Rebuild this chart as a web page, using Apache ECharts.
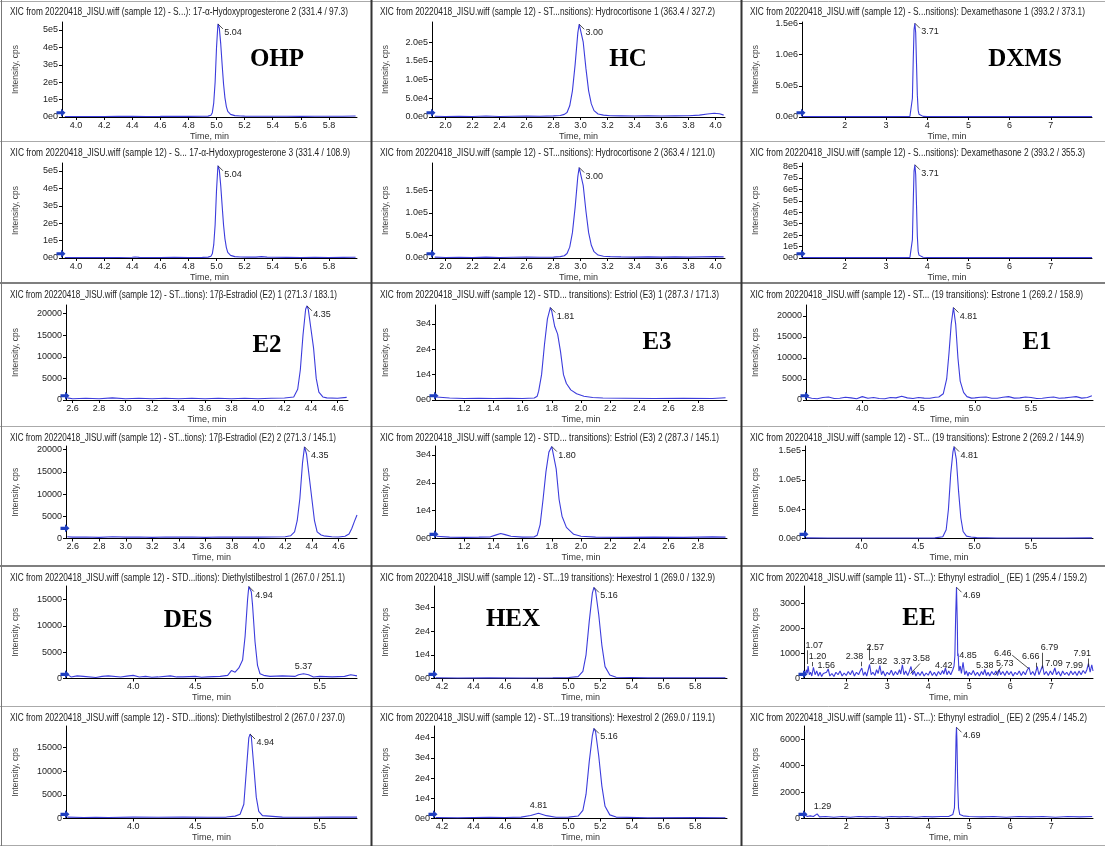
<!DOCTYPE html>
<html>
<head>
<meta charset="utf-8">
<title>XIC chromatograms</title>
<script src="https://cdn.jsdelivr.net/npm/echarts@6/dist/echarts.min.js"></script>
<style>
html, body { margin: 0; padding: 0; background: #fff; }
#chart { width: 1105px; height: 846px; }
</style>
</head>
<body>
<div id="chart"></div>
<script>
// ---- traces: [time (min), intensity (cps)] ----
const ohp1 = [[3.92,3000],[4.0,2500],[4.1,3000],[4.2,2500],[4.3,3500],[4.4,4500],[4.5,3000],[4.6,3500],[4.7,4500],[4.8,3500],[4.9,4000],[4.94,5000],[4.96,10000],[4.97,25000],[4.98,80000],[4.99,200000],[5.0,400000],[5.01,535000],[5.02,510000],[5.03,420000],[5.04,300000],[5.05,190000],[5.06,110000],[5.07,60000],[5.08,32000],[5.1,15000],[5.13,8000],[5.17,6000],[5.2,5000],[5.3,4000],[5.4,4500],[5.5,4000],[5.6,3500],[5.7,4500],[5.8,4000],[5.9,4500],[5.99,6000]];
const ohp2 = [[3.92,3000],[4.0,2000],[4.1,2500],[4.2,2000],[4.3,3000],[4.4,4000],[4.42,6000],[4.45,3500],[4.5,2500],[4.6,3000],[4.7,3500],[4.8,3000],[4.9,3500],[4.94,5000],[4.96,10000],[4.97,24000],[4.98,75000],[4.99,190000],[5.0,390000],[5.01,530000],[5.02,505000],[5.03,415000],[5.04,300000],[5.05,190000],[5.06,110000],[5.07,60000],[5.08,32000],[5.1,15000],[5.13,8000],[5.17,6000],[5.22,5000],[5.28,5000],[5.32,8000],[5.36,5000],[5.4,4000],[5.5,3500],[5.6,3000],[5.7,3500],[5.8,3000],[5.9,3500],[5.99,4000]];
const hc1 = [[1.92,2000],[2.0,1500],[2.1,2000],[2.2,1500],[2.3,2500],[2.4,1500],[2.5,2000],[2.6,2500],[2.7,2000],[2.8,3000],[2.85,4000],[2.88,7000],[2.9,12000],[2.92,30000],[2.94,70000],[2.96,140000],[2.98,225000],[2.99,248000],[3.0,245000],[3.02,200000],[3.04,130000],[3.06,70000],[3.08,35000],[3.1,17000],[3.13,8000],[3.17,5000],[3.22,3500],[3.3,3000],[3.4,2500],[3.5,3000],[3.6,2500],[3.7,3000],[3.8,3500],[3.88,5000],[3.94,8000],[3.99,10000],[4.03,8500],[4.06,5000]];
const hc2 = [[1.92,2000],[2.0,1000],[2.1,1500],[2.2,1000],[2.3,2000],[2.4,1000],[2.5,1500],[2.6,2000],[2.7,1500],[2.8,2000],[2.85,3000],[2.88,5000],[2.9,10000],[2.92,24000],[2.94,56000],[2.96,112000],[2.98,180000],[2.99,200000],[3.0,197000],[3.02,160000],[3.04,104000],[3.06,56000],[3.08,28000],[3.1,14000],[3.13,6500],[3.17,4000],[3.22,3000],[3.3,2500],[3.4,2000],[3.5,2500],[3.6,2000],[3.7,2500],[3.8,2000],[3.9,2500],[4.0,3000],[4.06,2500]];
const dxms1 = [[0.97,8000],[1.5,6000],[2.0,6000],[2.5,7000],[3.0,6000],[3.4,7000],[3.58,9000],[3.62,40000],[3.64,300000],[3.66,900000],[3.68,1400000],[3.7,1500000],[3.72,1350000],[3.74,850000],[3.76,350000],[3.78,110000],[3.8,45000],[3.84,20000],[3.9,10000],[4.0,7000],[5.0,6000],[6.0,6000],[7.0,6000],[8.0,6000]];
const dxms2 = [[0.97,4000],[1.5,3000],[2.0,3000],[2.5,3500],[3.0,3000],[3.4,3500],[3.58,5000],[3.62,22000],[3.64,160000],[3.66,480000],[3.68,760000],[3.7,815000],[3.72,730000],[3.74,460000],[3.76,190000],[3.78,60000],[3.8,25000],[3.84,11000],[3.9,6000],[4.0,4000],[5.0,3000],[6.0,3000],[7.0,3000],[8.0,3000]];
const e2a = [[2.56,500],[2.6,300],[2.7,400],[2.8,300],[2.9,500],[3.0,300],[3.1,400],[3.2,300],[3.3,400],[3.4,300],[3.5,400],[3.6,300],[3.7,400],[3.8,300],[3.9,400],[4.0,300],[4.1,400],[4.2,450],[4.27,700],[4.3,2500],[4.32,7000],[4.34,15000],[4.36,21000],[4.37,21800],[4.38,21000],[4.4,16500],[4.42,12000],[4.44,5000],[4.46,1800],[4.49,700],[4.52,500],[4.6,400],[4.67,600]];
const e2b = [[2.56,400],[2.6,300],[2.7,350],[2.8,250],[2.9,400],[3.0,300],[3.1,350],[3.2,250],[3.3,350],[3.4,300],[3.5,350],[3.6,250],[3.7,350],[3.8,300],[3.9,350],[4.0,300],[4.1,350],[4.2,400],[4.24,600],[4.27,1500],[4.29,4000],[4.31,9000],[4.33,17000],[4.345,20600],[4.36,19000],[4.38,14000],[4.4,9000],[4.42,4000],[4.44,1500],[4.47,800],[4.49,600],[4.55,400],[4.6,350],[4.65,500],[4.68,1000],[4.7,2200],[4.72,3800],[4.74,5300]];
const e3a = [[1.01,1200],[1.1,800],[1.2,600],[1.3,700],[1.4,600],[1.5,700],[1.6,600],[1.68,800],[1.7,1500],[1.71,3500],[1.73,10000],[1.75,22000],[1.77,32000],[1.79,36500],[1.8,35000],[1.82,29000],[1.84,26000],[1.86,19000],[1.88,10000],[1.9,6500],[1.93,4000],[1.97,2500],[2.02,1500],[2.08,1000],[2.15,800],[2.3,700],[2.5,600],[2.7,700],[2.9,600],[2.99,900]];
const e3b = [[1.01,800],[1.1,500],[1.2,400],[1.3,500],[1.38,600],[1.42,1300],[1.45,1800],[1.48,1400],[1.52,800],[1.6,500],[1.68,600],[1.7,1200],[1.72,5000],[1.74,14000],[1.76,24000],[1.78,31000],[1.8,33000],[1.81,32500],[1.83,25000],[1.85,14000],[1.87,8000],[1.9,4000],[1.95,1500],[2.0,800],[2.1,500],[2.3,400],[2.5,500],[2.7,400],[2.9,600],[2.99,500]];
const e1a = [[3.51,700],[3.55,400],[3.6,300],[3.65,600],[3.7,700],[3.75,350],[3.8,400],[3.85,650],[3.9,500],[3.95,300],[4.0,800],[4.05,400],[4.1,600],[4.15,350],[4.2,300],[4.25,600],[4.3,500],[4.35,900],[4.4,500],[4.45,350],[4.5,600],[4.55,450],[4.6,400],[4.65,650],[4.68,700],[4.72,1500],[4.75,5000],[4.77,11000],[4.79,18000],[4.81,22000],[4.83,18000],[4.85,10000],[4.87,4500],[4.9,1800],[4.93,800],[4.97,450],[5.0,500],[5.05,650],[5.1,700],[5.15,400],[5.2,400],[5.25,650],[5.3,800],[5.35,450],[5.4,500],[5.45,700],[5.5,600],[5.55,350],[5.6,400],[5.65,600],[5.7,700],[5.75,400],[5.8,500],[5.85,650],[5.9,800],[5.95,450],[6.0,600],[6.04,1000]];
const e1b = [[3.51,1000],[3.7,800],[4.0,800],[4.3,900],[4.5,800],[4.65,1000],[4.72,3000],[4.75,15000],[4.77,50000],[4.79,110000],[4.81,148000],[4.82,157000],[4.84,135000],[4.86,80000],[4.88,35000],[4.9,12000],[4.93,4000],[4.97,2500],[5.02,1500],[5.2,900],[5.5,800],[5.8,900],[6.04,1000]];
const des1 = [[3.47,800],[3.5,300],[3.55,500],[3.6,400],[3.7,200],[3.75,400],[3.8,500],[3.9,300],[3.95,450],[4.0,600],[4.05,300],[4.1,400],[4.15,250],[4.2,300],[4.3,500],[4.35,300],[4.4,300],[4.5,400],[4.55,250],[4.6,300],[4.7,400],[4.76,600],[4.79,1500],[4.82,1200],[4.85,2000],[4.88,3500],[4.9,8000],[4.92,15000],[4.93,17500],[4.95,16500],[4.96,14000],[4.98,7000],[5.0,2500],[5.02,900],[5.05,600],[5.1,400],[5.2,500],[5.3,400],[5.33,700],[5.37,900],[5.41,700],[5.45,300],[5.5,400],[5.6,300],[5.7,400],[5.75,700],[5.8,500]];
const des2 = [[3.47,300],[3.6,200],[3.7,250],[3.8,200],[4.0,300],[4.2,250],[4.4,300],[4.6,250],[4.75,300],[4.82,500],[4.86,900],[4.89,3000],[4.91,10000],[4.93,17000],[4.94,17800],[4.95,17300],[4.97,11000],[4.99,4500],[5.01,1500],[5.04,600],[5.2,300],[5.4,250],[5.6,300],[5.8,300]];
const hex1 = [[4.16,300],[4.3,200],[4.5,300],[4.7,200],[4.9,300],[5.0,400],[5.06,800],[5.09,3000],[5.11,10000],[5.13,24000],[5.15,36000],[5.16,38400],[5.17,37000],[5.19,27000],[5.21,14000],[5.23,5000],[5.26,1500],[5.3,500],[5.5,300],[5.8,300],[5.99,300]];
const hex2 = [[4.16,500],[4.3,400],[4.5,600],[4.6,500],[4.7,700],[4.76,1500],[4.81,2600],[4.86,1400],[4.92,600],[5.0,700],[5.06,1200],[5.09,4000],[5.11,12000],[5.13,28000],[5.15,41000],[5.16,44500],[5.17,43000],[5.19,31000],[5.21,16000],[5.23,6000],[5.26,1800],[5.3,700],[5.5,400],[5.8,500],[5.99,400]];
const ee1 = [[0.98,300],[1.0,150],[1.03,350],[1.05,200],[1.07,500],[1.1,150],[1.13,250],[1.16,100],[1.2,450],[1.24,150],[1.28,300],[1.32,100],[1.36,250],[1.4,80],[1.44,200],[1.48,120],[1.52,250],[1.56,380],[1.6,100],[1.65,200],[1.7,80],[1.75,250],[1.8,150],[1.85,300],[1.9,100],[1.95,220],[2.0,120],[2.05,280],[2.1,150],[2.15,320],[2.2,100],[2.25,250],[2.3,150],[2.34,300],[2.38,420],[2.42,120],[2.46,260],[2.5,100],[2.53,300],[2.57,560],[2.61,150],[2.65,250],[2.7,120],[2.74,350],[2.78,200],[2.82,520],[2.86,150],[2.9,300],[2.95,100],[3.0,250],[3.05,150],[3.1,330],[3.15,120],[3.2,280],[3.25,150],[3.3,350],[3.33,180],[3.37,550],[3.41,150],[3.45,300],[3.5,120],[3.54,280],[3.58,480],[3.62,150],[3.66,300],[3.7,100],[3.75,250],[3.8,120],[3.85,280],[3.9,100],[3.95,220],[4.0,130],[4.05,300],[4.1,120],[4.15,250],[4.2,100],[4.25,280],[4.3,150],[4.35,320],[4.38,180],[4.42,420],[4.46,150],[4.5,300],[4.55,150],[4.6,350],[4.63,500],[4.65,900],[4.67,2500],[4.69,3650],[4.71,2200],[4.72,900],[4.73,1000],[4.75,300],[4.78,500],[4.81,200],[4.85,650],[4.89,150],[4.93,300],[4.97,100],[5.0,250],[5.05,150],[5.1,320],[5.15,120],[5.2,250],[5.25,100],[5.3,280],[5.34,150],[5.38,360],[5.42,120],[5.46,250],[5.5,100],[5.55,280],[5.6,150],[5.65,300],[5.69,120],[5.73,350],[5.77,150],[5.82,280],[5.87,120],[5.92,300],[5.97,150],[6.02,280],[6.07,100],[6.12,250],[6.17,150],[6.22,300],[6.27,120],[6.32,280],[6.37,150],[6.41,320],[6.46,450],[6.5,150],[6.55,280],[6.6,120],[6.66,480],[6.7,150],[6.74,300],[6.79,520],[6.83,150],[6.88,280],[6.93,120],[6.98,300],[7.03,150],[7.09,420],[7.13,150],[7.18,280],[7.23,100],[7.28,300],[7.33,150],[7.38,250],[7.43,120],[7.48,300],[7.53,150],[7.58,280],[7.63,120],[7.68,300],[7.73,150],[7.78,320],[7.83,200],[7.87,350],[7.91,600],[7.95,250],[7.99,550],[8.02,300]];
const ee2 = [[0.98,300],[1.05,150],[1.12,200],[1.2,150],[1.29,350],[1.35,120],[1.5,150],[1.7,100],[1.9,150],[2.1,100],[2.3,150],[2.5,120],[2.7,150],[2.9,100],[3.1,150],[3.3,120],[3.5,150],[3.7,100],[3.9,150],[4.1,120],[4.3,150],[4.5,150],[4.6,300],[4.64,800],[4.66,3000],[4.68,6200],[4.69,6900],[4.7,6000],[4.72,2500],[4.74,800],[4.77,300],[4.85,200],[5.0,150],[5.3,120],[5.6,150],[5.9,100],[6.2,150],[6.5,120],[6.8,150],[7.1,100],[7.4,150],[7.7,120],[8.0,150]];

// ---- peak apex labels: [time, intensity, text] ----
const ohp1Peaks = [[5.01, 535000, '5.04']];
const ohp2Peaks = [[5.01, 530000, '5.04']];
const hc1Peaks = [[2.99, 248000, '3.00']];
const hc2Peaks = [[2.99, 200000, '3.00']];
const dxms1Peaks = [[3.7, 1500000, '3.71']];
const dxms2Peaks = [[3.7, 815000, '3.71']];
const e2aPeaks = [[4.37, 21800, '4.35']];
const e2bPeaks = [[4.345, 20600, '4.35']];
const e3aPeaks = [[1.79, 36500, '1.81']];
const e3bPeaks = [[1.8, 33000, '1.80']];
const e1aPeaks = [[4.81, 22000, '4.81']];
const e1bPeaks = [[4.82, 157000, '4.81']];
const des1Peaks = [[4.93, 17500, '4.94']];
const des2Peaks = [[4.94, 17800, '4.94']];
const hex1Peaks = [[5.16, 38400, '5.16']];
const hex2Peaks = [[5.16, 44500, '5.16']];
const ee1Peaks = [[4.69, 3650, '4.69']];
const ee2Peaks = [[4.69, 6900, '4.69']];
// small peaks labelled just above the trace
const des1Minor = [[5.37, 900, '5.37']];
const hex2Minor = [[4.81, 2600, '4.81']];
// EE 1 crowded labels: [text, time, intensity] of the label centre
const ee1Labels = [['1.07',1.22,1330],['1.20',1.30,890],['1.56',1.51,505],['2.38',2.20,890],['2.57',2.71,1240],['2.82',2.79,690],['3.37',3.36,690],['3.58',3.83,800],['4.42',4.38,505],['4.85',4.97,905],['5.38',5.38,505],['5.73',5.87,615],['6.46',5.82,1010],['6.66',6.50,890],['6.79',6.96,1240],['7.09',7.07,615],['7.91',7.76,1010],['7.99',7.56,505]];
const ee1Leaders = [[1.06,580,1.06,1130],[1.18,490,1.18,660],[2.37,490,2.37,670],[2.56,730,2.56,1320],[3.57,200,3.80,600],[5.63,130,5.79,470],[6.05,930,6.45,400],[6.63,440,6.63,630],[6.78,410,6.78,1030],[7.9,470,7.9,800]];
const ee2Labels = [['1.29',1.42,900]];

// ---- tick values ----
const ohpXTicks = [4.0,4.2,4.4,4.6,4.8,5.0,5.2,5.4,5.6,5.8];
const ohpYTicks = [0,100000,200000,300000,400000,500000];
const hcXTicks = [2.0,2.2,2.4,2.6,2.8,3.0,3.2,3.4,3.6,3.8,4.0];
const hc1YTicks = [0,50000,100000,150000,200000];
const hc2YTicks = [0,50000,100000,150000];
const dxmsXTicks = [2,3,4,5,6,7];
const dxms1YTicks = [0,500000,1000000,1500000];
const dxms2YTicks = [0,100000,200000,300000,400000,500000,600000,700000,800000];
const e2XTicks = [2.6,2.8,3.0,3.2,3.4,3.6,3.8,4.0,4.2,4.4,4.6];
const e2YTicks = [0,5000,10000,15000,20000];
const e3XTicks = [1.2,1.4,1.6,1.8,2.0,2.2,2.4,2.6,2.8];
const e3YTicks = [0,10000,20000,30000];
const e1XTicks = [4.0,4.5,5.0,5.5];
const e1aYTicks = [0,5000,10000,15000,20000];
const e1bYTicks = [0,50000,100000,150000];
const desXTicks = [4.0,4.5,5.0,5.5];
const desYTicks = [0,5000,10000,15000];
const hexXTicks = [4.2,4.4,4.6,4.8,5.0,5.2,5.4,5.6,5.8];
const hex1YTicks = [0,10000,20000,30000];
const hex2YTicks = [0,10000,20000,30000,40000];
const eeXTicks = [2,3,4,5,6,7];
const ee1YTicks = [0,1000,2000,3000];
const ee2YTicks = [0,2000,4000,6000];

const FONT = '"Liberation Sans", Arial, sans-serif';
const LINE = '#3c3cdc';
const colX = [0, 370, 740];
const rowY = [0, 141, 283, 426, 566, 706];

const fmt = {
  e0: v => v.toExponential(0).replace('+', ''),
  e1: v => v.toExponential(1).replace('+', ''),
  plain: v => String(v)
};

const panels = [
  { col:0, row:0, data:ohp1, peaks:ohp1Peaks, xMin:3.9, xMax:6.0, yMax:546000, xTicks:ohpXTicks, yTicks:ohpYTicks, yFmt:'e0', xDec:1, left:62, right:357, tag:'OHP', tagX:277, tagY:60,
    title:'XIC from 20220418_JISU.wiff (sample 12) - S...): 17-\u03b1-Hydoxyprogesterone 2 (331.4 / 97.3)', tw:338 },
  { col:1, row:0, data:hc1, peaks:hc1Peaks, xMin:1.9, xMax:4.07, yMax:254000, xTicks:hcXTicks, yTicks:hc1YTicks, yFmt:'e1', xDec:1, left:62, right:355, tag:'HC', tagX:258, tagY:60,
    title:'XIC from 20220418_JISU.wiff (sample 12) - ST...nsitions): Hydrocortisone 1 (363.4 / 327.2)', tw:335 },
  { col:2, row:0, data:dxms1, peaks:dxms1Peaks, xMin:0.96, xMax:8.0, yMax:1520000, xTicks:dxmsXTicks, yTicks:dxms1YTicks, yFmt:'e1', xDec:0, left:62, right:352, tag:'DXMS', tagX:285, tagY:60,
    title:'XIC from 20220418_JISU.wiff (sample 12) - S...nsitions): Dexamethasone 1 (393.2 / 373.1)', tw:335 },
  { col:0, row:1, data:ohp2, peaks:ohp2Peaks, xMin:3.9, xMax:6.0, yMax:546000, xTicks:ohpXTicks, yTicks:ohpYTicks, yFmt:'e0', xDec:1, left:62, right:357,
    title:'XIC from 20220418_JISU.wiff (sample 12) - S... 17-\u03b1-Hydoxyprogesterone 3 (331.4 / 108.9)', tw:340 },
  { col:1, row:1, data:hc2, peaks:hc2Peaks, xMin:1.9, xMax:4.07, yMax:210000, xTicks:hcXTicks, yTicks:hc2YTicks, yFmt:'e1', xDec:1, left:62, right:355,
    title:'XIC from 20220418_JISU.wiff (sample 12) - ST...nsitions): Hydrocortisone 2 (363.4 / 121.0)', tw:335 },
  { col:2, row:1, data:dxms2, peaks:dxms2Peaks, xMin:0.96, xMax:8.0, yMax:830000, xTicks:dxmsXTicks, yTicks:dxms2YTicks, yFmt:'e0', xDec:0, left:62, right:352,
    title:'XIC from 20220418_JISU.wiff (sample 12) - S...nsitions): Dexamethasone 2 (393.2 / 355.3)', tw:335 },
  { col:0, row:2, data:e2a, peaks:e2aPeaks, xMin:2.55, xMax:4.68, yMax:22000, xTicks:e2XTicks, yTicks:e2YTicks, yFmt:'plain', xDec:1, left:66, right:348, tag:'E2', tagX:267, tagY:63,
    title:'XIC from 20220418_JISU.wiff (sample 12) - ST...tions): 17\u03b2-Estradiol (E2) 1 (271.3 / 183.1)', tw:327 },
  { col:1, row:2, data:e3a, peaks:e3aPeaks, xMin:1.0, xMax:3.0, yMax:37500, xTicks:e3XTicks, yTicks:e3YTicks, yFmt:'e0', xDec:1, left:65, right:357, tag:'E3', tagX:287, tagY:60,
    title:'XIC from 20220418_JISU.wiff (sample 12) - STD... transitions): Estriol (E3) 1 (287.3 / 171.3)', tw:339 },
  { col:2, row:2, data:e1a, peaks:e1aPeaks, xMin:3.5, xMax:6.05, yMax:22600, xTicks:e1XTicks, yTicks:e1aYTicks, yFmt:'plain', xDec:1, left:66, right:353, tag:'E1', tagX:297, tagY:60,
    title:'XIC from 20220418_JISU.wiff (sample 12) - ST... (19 transitions): Estrone 1 (269.2 / 158.9)', tw:333 },
  { col:0, row:3, data:e2b, peaks:e2bPeaks, xMin:2.55, xMax:4.74, yMax:20800, xTicks:e2XTicks, yTicks:e2YTicks, yFmt:'plain', xDec:1, left:66, right:357, arrow:0.11,
    title:'XIC from 20220418_JISU.wiff (sample 12) - ST...tions): 17\u03b2-Estradiol (E2) 2 (271.3 / 145.1)', tw:326 },
  { col:1, row:3, data:e3b, peaks:e3bPeaks, xMin:1.0, xMax:3.0, yMax:33200, xTicks:e3XTicks, yTicks:e3YTicks, yFmt:'e0', xDec:1, left:65, right:357,
    title:'XIC from 20220418_JISU.wiff (sample 12) - STD... transitions): Estriol (E3) 2 (287.3 / 145.1)', tw:339 },
  { col:2, row:3, data:e1b, peaks:e1bPeaks, xMin:3.5, xMax:6.05, yMax:158000, xTicks:e1XTicks, yTicks:e1bYTicks, yFmt:'e1', xDec:1, left:65, right:353,
    title:'XIC from 20220418_JISU.wiff (sample 12) - ST... (19 transitions): Estrone 2 (269.2 / 144.9)', tw:334 },
  { col:0, row:4, data:des1, peaks:des1Peaks, minor:des1Minor, xMin:3.46, xMax:5.8, yMax:17600, xTicks:desXTicks, yTicks:desYTicks, yFmt:'plain', xDec:1, left:66, right:357, tag:'DES', tagX:188, tagY:55,
    title:'XIC from 20220418_JISU.wiff (sample 12) - STD...itions): Diethylstilbestrol 1 (267.0 / 251.1)', tw:335 },
  { col:1, row:4, data:hex1, peaks:hex1Peaks, xMin:4.15, xMax:6.0, yMax:39000, xTicks:hexXTicks, yTicks:hex1YTicks, yFmt:'e0', xDec:1, left:64, right:357, tag:'HEX', tagX:143, tagY:54,
    title:'XIC from 20220418_JISU.wiff (sample 12) - ST...19 transitions): Hexestrol 1 (269.0 / 132.9)', tw:335 },
  { col:2, row:4, data:ee1, peaks:ee1Peaks, labels:ee1Labels, leaders:ee1Leaders, xMin:0.97, xMax:8.02, yMax:3700, xTicks:eeXTicks, yTicks:ee1YTicks, yFmt:'plain', xDec:0, left:64, right:353, tag:'EE', tagX:179, tagY:53,
    title:'XIC from 20220418_JISU.wiff (sample 11) - ST...): Ethynyl estradiol_ (EE) 1 (295.4 / 159.2)', tw:337 },
  { col:0, row:5, data:des2, peaks:des2Peaks, xMin:3.46, xMax:5.8, yMax:19500, xTicks:desXTicks, yTicks:desYTicks, yFmt:'plain', xDec:1, left:66, right:357,
    title:'XIC from 20220418_JISU.wiff (sample 12) - STD...itions): Diethylstilbestrol 2 (267.0 / 237.0)', tw:335 },
  { col:1, row:5, data:hex2, peaks:hex2Peaks, minor:hex2Minor, xMin:4.15, xMax:6.0, yMax:45700, xTicks:hexXTicks, yTicks:hex2YTicks, yFmt:'e0', xDec:1, left:64, right:357,
    title:'XIC from 20220418_JISU.wiff (sample 12) - ST...19 transitions): Hexestrol 2 (269.0 / 119.1)', tw:335 },
  { col:2, row:5, data:ee2, peaks:ee2Peaks, labels:ee2Labels, xMin:0.97, xMax:8.02, yMax:7000, xTicks:eeXTicks, yTicks:ee2YTicks, yFmt:'plain', xDec:0, left:64, right:353,
    title:'XIC from 20220418_JISU.wiff (sample 11) - ST...): Ethynyl estradiol_ (EE) 2 (295.4 / 145.2)', tw:337 }
];

const measure = document.createElement('canvas').getContext('2d');
const TITLE_FONT = '10px "Liberation Sans", Arial, sans-serif';
measure.font = TITLE_FONT;

const grids = [], xAxes = [], yAxes = [], series = [], graphics = [];

panels.forEach((p, i) => {
  const cx = colX[p.col], ry = rowY[p.row];
  const top = ry + (p.row < 3 ? 22 : 20);
  const h = p.row < 3 ? 95 : 92.5;
  grids.push({ left: cx + p.left, top: top, width: p.right - p.left, height: h });

  xAxes.push({
    type: 'value', gridIndex: i, min: p.xMin, max: p.xMax,
    name: 'Time, min', nameLocation: 'middle', nameGap: 15,
    nameTextStyle: { fontSize: 9, color: '#333', fontFamily: FONT },
    axisLine: { onZero: false, lineStyle: { color: '#000', width: 1 } },
    axisTick: { customValues: p.xTicks, length: 3, lineStyle: { color: '#000' } },
    axisLabel: { customValues: p.xTicks, formatter: v => v.toFixed(p.xDec), fontSize: 9, color: '#222', margin: 4, fontFamily: FONT },
    splitLine: { show: false }
  });
  yAxes.push({
    type: 'value', gridIndex: i, min: 0, max: p.yMax,
    name: 'Intensity, cps', nameLocation: 'middle', nameRotate: 90, nameGap: p.left - 20,
    nameTextStyle: { fontSize: 8.5, color: '#444', fontFamily: FONT },
    axisLine: { show: true, lineStyle: { color: '#000', width: 1 } },
    axisTick: { show: true, customValues: p.yTicks, length: 3, lineStyle: { color: '#000' } },
    axisLabel: { customValues: p.yTicks, formatter: fmt[p.yFmt], fontSize: 9, color: '#222', margin: 4, fontFamily: FONT },
    splitLine: { show: false }
  });

  const marks = [];
  // blue block arrow sitting on the y axis
  marks.push({
    coord: [p.xMin, p.yMax * (p.arrow || 0.045)], symbol: 'path://M0,3L5,3L5,0L10,5L5,10L5,7L0,7Z',
    symbolSize: [9, 8], symbolOffset: [-1, 0], itemStyle: { color: '#1f3fc0' }, label: { show: false }
  });
  p.peaks.forEach(pk => marks.push({
    coord: [pk[0], pk[1]], symbol: 'path://M0,0L10,10', symbolSize: [5, 5], symbolOffset: [2.5, 2.5],
    itemStyle: { color: 'rgba(0,0,0,0)', borderColor: '#222', borderWidth: 0.8 },
    label: { show: true, position: 'right', distance: 1, offset: [0, 6], formatter: pk[2], fontSize: 9, color: '#222', fontFamily: FONT }
  }));
  (p.minor || []).forEach(pk => marks.push({
    coord: [pk[0], pk[1]], symbolSize: 0,
    label: { show: true, position: 'top', distance: 3, formatter: pk[2], fontSize: 9, color: '#222', fontFamily: FONT }
  }));
  (p.labels || []).forEach(lb => marks.push({
    coord: [lb[1], lb[2]], symbolSize: 0,
    label: { show: true, position: 'inside', formatter: lb[0], fontSize: 9, color: '#222', fontFamily: FONT }
  }));

  const s = {
    type: 'line', xAxisIndex: i, yAxisIndex: i, data: p.data,
    showSymbol: false, symbol: 'none', animation: false, silent: true,
    lineStyle: { color: LINE, width: 1.1 },
    markPoint: { silent: true, animation: false, data: marks }
  };
  if (p.leaders) {
    s.markLine = {
      silent: true, animation: false, symbol: 'none', label: { show: false },
      lineStyle: { color: '#222', width: 0.8, type: 'solid' },
      data: p.leaders.map(l => [{ coord: [l[0], l[1]] }, { coord: [l[2], l[3]] }])
    };
  }
  series.push(s);

  // panel title, squeezed to the panel width
  const w = measure.measureText(p.title).width;
  graphics.push({
    type: 'text', x: cx + 10, y: ry + 12, scaleX: Math.min(1, p.tw / w), silent: true,
    style: { text: p.title, font: TITLE_FONT, fill: '#222', verticalAlign: 'middle' }
  });
  if (p.tag) {
    graphics.push({
      type: 'text', x: cx + p.tagX, y: ry + p.tagY, silent: true,
      style: { text: p.tag, font: 'bold 25px "Liberation Serif", "Times New Roman", serif', fill: '#000', align: 'center', verticalAlign: 'middle' }
    });
  }
});

// frame lines between the panels
[1, 141, 426, 706, 845].forEach(y => graphics.push({
  type: 'line', silent: true, shape: { x1: 0, y1: y + 0.5, x2: 1105, y2: y + 0.5 }, style: { stroke: '#aaa', lineWidth: 1 }
}));
[283, 566].forEach(y => graphics.push({
  type: 'line', silent: true, shape: { x1: 0, y1: y, x2: 1105, y2: y }, style: { stroke: '#555', lineWidth: 1.5 }
}));
[371.5, 741.5].forEach(x => graphics.push({
  type: 'line', silent: true, shape: { x1: x, y1: 0, x2: x, y2: 846 }, style: { stroke: '#333', lineWidth: 2 }
}));
graphics.push({ type: 'line', silent: true, shape: { x1: 1.5, y1: 0, x2: 1.5, y2: 846 }, style: { stroke: '#777', lineWidth: 1 } });

const chart = echarts.init(document.getElementById('chart'));
chart.setOption({
  backgroundColor: '#fff',
  animation: false,
  grid: grids,
  xAxis: xAxes,
  yAxis: yAxes,
  series: series,
  graphic: graphics
});
</script>
</body>
</html>
